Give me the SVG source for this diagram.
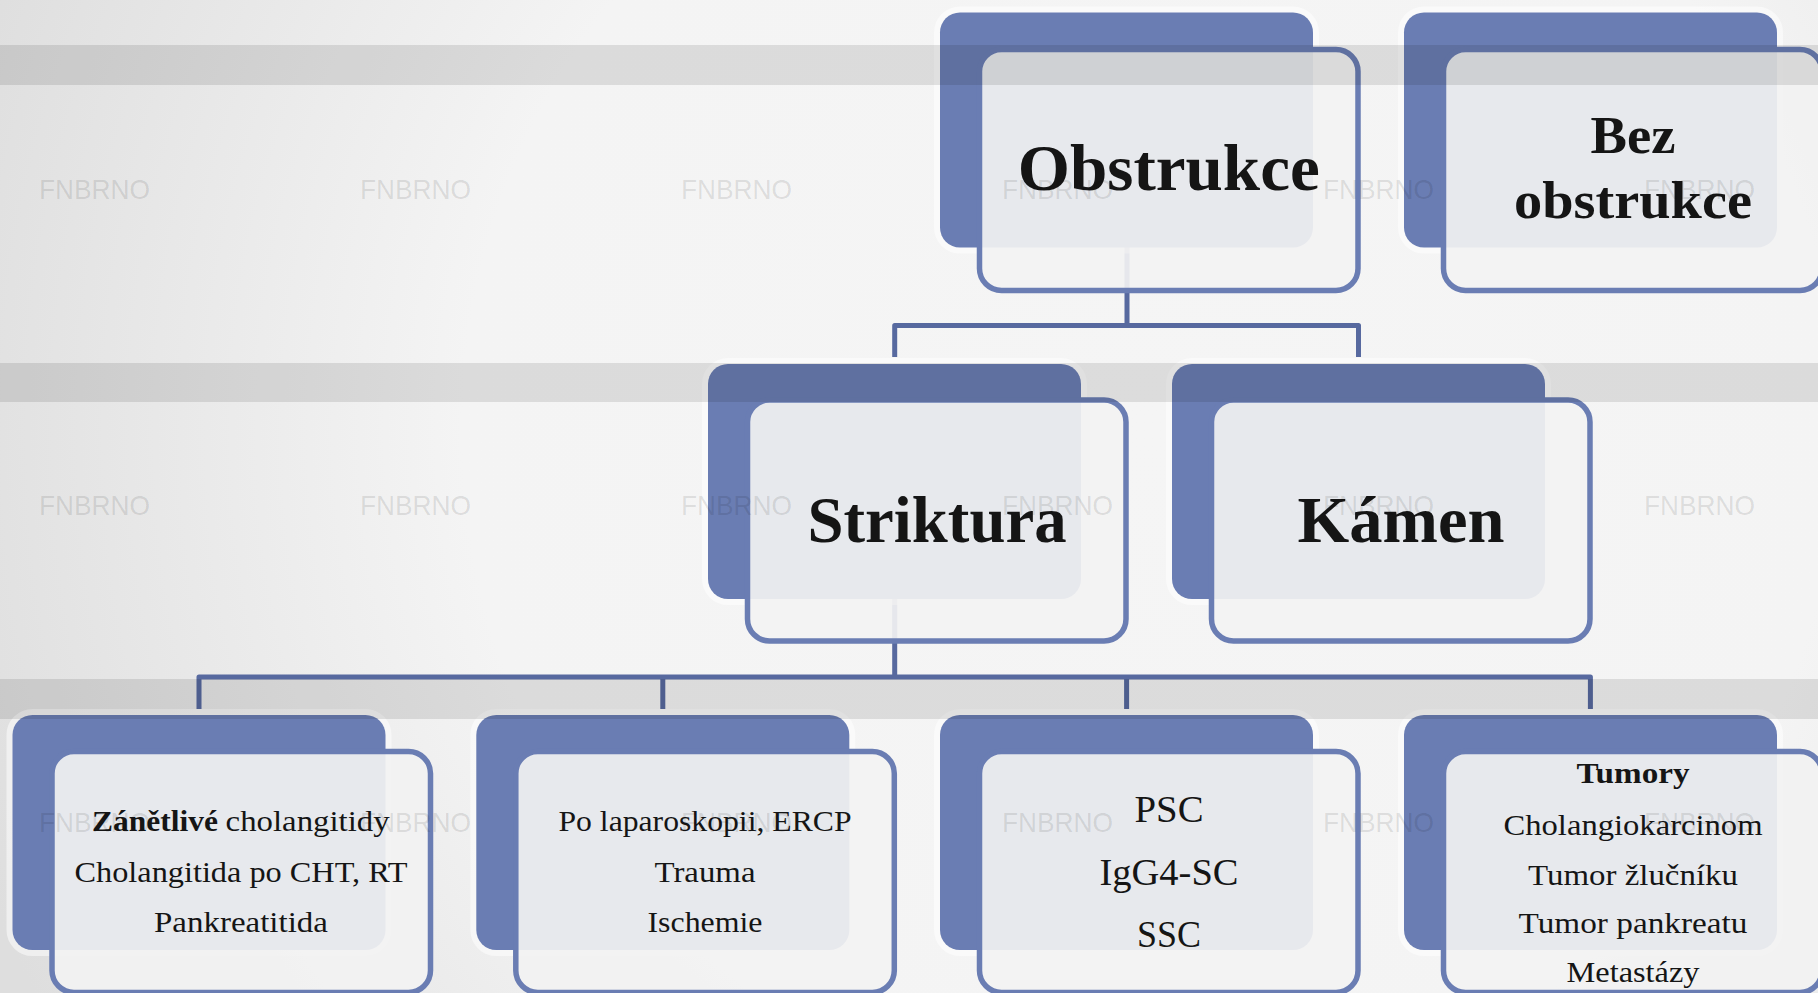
<svg xmlns="http://www.w3.org/2000/svg" width="1818" height="993" viewBox="0 0 1818 993">
<defs>
<radialGradient id="bg" gradientUnits="userSpaceOnUse" cx="1150" cy="430" r="1250">
<stop offset="0" stop-color="#f5f5f5"/>
<stop offset="0.55" stop-color="#f4f4f4"/>
<stop offset="1" stop-color="#dedede"/>
</radialGradient>
<style>
.back{fill:#6a7db3;stroke:#ffffff;stroke-opacity:0.5;stroke-width:12;paint-order:stroke}
.front{fill:#f2f2f2;fill-opacity:0.92;stroke:#6a7db3;stroke-width:5.5}
.conn{fill:none;stroke:#57699f;stroke-width:5;stroke-linejoin:round}
.band{fill:#000000;fill-opacity:0.1}
.wm{font-family:"Liberation Sans",Arial,sans-serif;font-size:28px;fill:#000000;fill-opacity:0.11}
.t{font-family:"Palatino Linotype","Book Antiqua",Palatino,"Liberation Serif",serif;fill:#151515;text-anchor:middle}
.b{font-weight:bold}
.big{font-size:66px}
.mid{font-size:53px}
.sm{font-size:29px}
.md{font-size:37px}
</style>
</defs>
<rect x="0" y="0" width="1818" height="993" fill="url(#bg)"/>

<g id="connectors">
<path class="conn" d="M1127 240 V325.5 M894.7 357 V325.5 H1358.5 V357"/>
<path class="conn" d="M894.7 590 V677 M199 709 V677 H1590.4 V709 M662.8 709 V677 M1126.6 709 V677"/>
</g>

<g id="n-obstrukce">
<rect class="back" x="940" y="12.5" width="373" height="235" rx="20"/>
<rect class="front" x="979.5" y="49.5" width="378.5" height="241" rx="22"/>
<text class="t b big" x="1168.75" y="190" textLength="302" lengthAdjust="spacingAndGlyphs">Obstrukce</text>
</g>

<g id="n-bez-obstrukce">
<rect class="back" x="1404" y="12.5" width="373" height="235" rx="20"/>
<rect class="front" x="1443.5" y="49.5" width="378.5" height="241" rx="22"/>
<text class="t b mid" x="1633" y="153" textLength="85" lengthAdjust="spacingAndGlyphs">Bez</text>
<text class="t b mid" x="1633" y="218" textLength="238" lengthAdjust="spacingAndGlyphs">obstrukce</text>
</g>

<g id="n-striktura">
<rect class="back" x="708" y="364" width="373" height="235" rx="20"/>
<rect class="front" x="747.5" y="400" width="378.5" height="241" rx="22"/>
<text class="t b big" x="937" y="542" textLength="259" lengthAdjust="spacingAndGlyphs">Striktura</text>
</g>

<g id="n-kamen">
<rect class="back" x="1172" y="364" width="373" height="235" rx="20"/>
<rect class="front" x="1211.5" y="400" width="378.5" height="241" rx="22"/>
<text class="t b big" x="1401" y="542" textLength="207" lengthAdjust="spacingAndGlyphs">Kámen</text>
</g>

<g id="n-zanetlive">
<rect class="back" x="12.5" y="715" width="373" height="235" rx="20"/>
<rect class="front" x="52" y="751.5" width="378.5" height="241" rx="22"/>
<text class="t sm" y="831" style="text-anchor:start"><tspan class="b" x="92" textLength="126" lengthAdjust="spacingAndGlyphs">Zánětlivé</tspan><tspan x="225.6" textLength="164" lengthAdjust="spacingAndGlyphs">cholangitidy</tspan></text>
<text class="t sm" x="241" y="882" textLength="333" lengthAdjust="spacingAndGlyphs">Cholangitida po CHT, RT</text>
<text class="t sm" x="241" y="932" textLength="174" lengthAdjust="spacingAndGlyphs">Pankreatitida</text>
</g>

<g id="n-po-laparoskopii">
<rect class="back" x="476.3" y="715" width="373" height="235" rx="20"/>
<rect class="front" x="515.8" y="751.5" width="378.5" height="241" rx="22"/>
<text class="t sm" x="705" y="831" textLength="293" lengthAdjust="spacingAndGlyphs">Po laparoskopii, ERCP</text>
<text class="t sm" x="705" y="882" textLength="101" lengthAdjust="spacingAndGlyphs">Trauma</text>
<text class="t sm" x="705" y="932" textLength="115" lengthAdjust="spacingAndGlyphs">Ischemie</text>
</g>

<g id="n-psc">
<rect class="back" x="940" y="715" width="373" height="235" rx="20"/>
<rect class="front" x="979.5" y="751.5" width="378.5" height="241" rx="22"/>
<text class="t md" x="1169" y="822" textLength="69" lengthAdjust="spacingAndGlyphs">PSC</text>
<text class="t md" x="1169" y="885" textLength="139" lengthAdjust="spacingAndGlyphs">IgG4-SC</text>
<text class="t md" x="1169" y="947" textLength="64" lengthAdjust="spacingAndGlyphs">SSC</text>
</g>

<g id="n-tumory">
<rect class="back" x="1404" y="715" width="373" height="235" rx="20"/>
<rect class="front" x="1443.5" y="751.5" width="378.5" height="241" rx="22"/>
<text class="t b" style="font-size:30px" x="1633" y="783" textLength="113" lengthAdjust="spacingAndGlyphs">Tumory</text>
<text class="t sm" x="1633" y="835" textLength="259" lengthAdjust="spacingAndGlyphs">Cholangiokarcinom</text>
<text class="t sm" x="1633" y="885" textLength="210" lengthAdjust="spacingAndGlyphs">Tumor žlučníku</text>
<text class="t sm" x="1633" y="933" textLength="229" lengthAdjust="spacingAndGlyphs">Tumor pankreatu</text>
<text class="t sm" x="1633" y="982" textLength="133" lengthAdjust="spacingAndGlyphs">Metastázy</text>
</g>

<g id="bands">
<rect class="band" x="0" y="45" width="1818" height="40"/>
<rect class="band" x="0" y="363" width="1818" height="39"/>
<rect class="band" x="0" y="679" width="1818" height="40"/>
</g>

<g id="watermarks">
<text class="wm" x="39" y="199" textLength="111" lengthAdjust="spacingAndGlyphs">FNBRNO</text>
<text class="wm" x="360" y="199" textLength="111" lengthAdjust="spacingAndGlyphs">FNBRNO</text>
<text class="wm" x="681" y="199" textLength="111" lengthAdjust="spacingAndGlyphs">FNBRNO</text>
<text class="wm" x="1002" y="199" textLength="111" lengthAdjust="spacingAndGlyphs">FNBRNO</text>
<text class="wm" x="1323" y="199" textLength="111" lengthAdjust="spacingAndGlyphs">FNBRNO</text>
<text class="wm" x="1644" y="199" textLength="111" lengthAdjust="spacingAndGlyphs">FNBRNO</text>
<text class="wm" x="39" y="515" textLength="111" lengthAdjust="spacingAndGlyphs">FNBRNO</text>
<text class="wm" x="360" y="515" textLength="111" lengthAdjust="spacingAndGlyphs">FNBRNO</text>
<text class="wm" x="681" y="515" textLength="111" lengthAdjust="spacingAndGlyphs">FNBRNO</text>
<text class="wm" x="1002" y="515" textLength="111" lengthAdjust="spacingAndGlyphs">FNBRNO</text>
<text class="wm" x="1323" y="515" textLength="111" lengthAdjust="spacingAndGlyphs">FNBRNO</text>
<text class="wm" x="1644" y="515" textLength="111" lengthAdjust="spacingAndGlyphs">FNBRNO</text>
<text class="wm" x="39" y="832" textLength="111" lengthAdjust="spacingAndGlyphs">FNBRNO</text>
<text class="wm" x="360" y="832" textLength="111" lengthAdjust="spacingAndGlyphs">FNBRNO</text>
<text class="wm" x="681" y="832" textLength="111" lengthAdjust="spacingAndGlyphs">FNBRNO</text>
<text class="wm" x="1002" y="832" textLength="111" lengthAdjust="spacingAndGlyphs">FNBRNO</text>
<text class="wm" x="1323" y="832" textLength="111" lengthAdjust="spacingAndGlyphs">FNBRNO</text>
<text class="wm" x="1644" y="832" textLength="111" lengthAdjust="spacingAndGlyphs">FNBRNO</text>
</g>
</svg>
